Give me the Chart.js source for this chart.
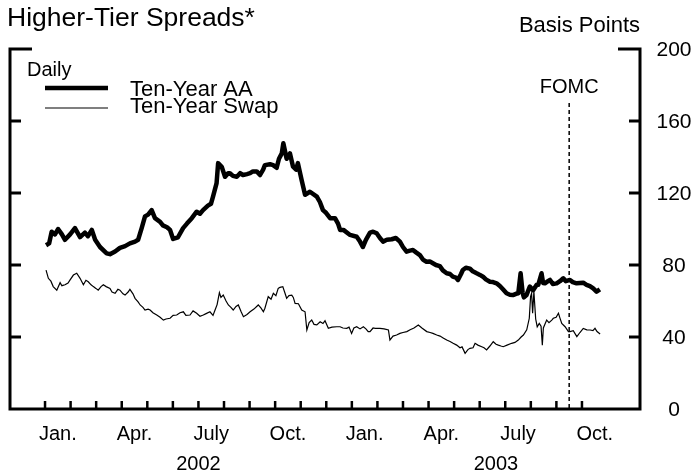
<!DOCTYPE html>
<html>
<head>
<meta charset="utf-8">
<script src="https://cdn.jsdelivr.net/npm/chart.js@4"></script>
<style>
  html, body { margin: 0; padding: 0; background: #fff; }
  #wrap { position: relative; width: 695px; height: 473px; }
</style>
</head>
<body>
<div id="wrap"><canvas id="spreads"></canvas></div>
<script>
// ═══════════════════════════════════════════════════════
// Data (x = months since Jan. 1, 2002)
// ═══════════════════════════════════════════════════════

const aaMonths = [
  0.04, 0.16, 0.26, 0.39, 0.51, 0.66, 0.78, 0.98, 1.17, 1.37, 1.56, 1.68, 1.83, 1.96, 2.15, 2.41, 2.54, 2.74, 2.93, 3.13,
  3.32, 3.52, 3.64, 3.78, 3.91, 4.03, 4.17, 4.30, 4.50, 4.61, 4.77, 4.89, 5.01, 5.20, 5.40, 5.55, 5.74, 5.93, 6.06, 6.18,
  6.37, 6.49, 6.57, 6.71, 6.77, 6.91, 7.04, 7.16, 7.23, 7.35, 7.50, 7.63, 7.74, 7.90, 8.02, 8.13, 8.28, 8.41, 8.53, 8.60,
  8.80, 8.92, 9.06, 9.15, 9.26, 9.32, 9.45, 9.58, 9.70, 9.82, 9.89, 10.04, 10.17, 10.36, 10.63, 10.75, 10.87, 10.99, 11.15, 11.34,
  11.46, 11.54, 11.67, 11.93, 12.19, 12.32, 12.43, 12.55, 12.71, 12.83, 12.97, 13.10, 13.22, 13.37, 13.56, 13.72, 13.88, 14.00, 14.14, 14.27,
  14.39, 14.51, 14.66, 14.78, 14.92, 15.05, 15.17, 15.29, 15.44, 15.56, 15.71, 15.84, 15.95, 16.07, 16.15, 16.27, 16.34, 16.46, 16.62, 16.73,
  16.88, 17.01, 17.13, 17.24, 17.40, 17.52, 17.66, 17.79, 17.91, 18.05, 18.18, 18.30, 18.42, 18.51, 18.60, 18.68, 18.73, 18.83, 18.96, 19.09,
  19.23, 19.29, 19.42, 19.48, 19.55, 19.67, 19.75, 19.86, 20.01, 20.14, 20.27, 20.37, 20.53, 20.64, 20.79, 20.92, 21.05, 21.18, 21.31, 21.44,
  21.57, 21.70
];
const aaValues = [
  91, 92, 98.5, 97, 100, 97, 94, 97, 100.5, 95.5, 98, 96, 99.5, 94, 90, 86.5, 86, 87.5, 89.5, 90.5,
  92, 93, 94, 100.5, 107, 108, 110.5, 106, 104, 102, 101, 99.5, 94.5, 95.4, 100.5, 103, 106, 109.6, 108.5, 110.5,
  113, 114, 118, 125.5, 136.6, 134.6, 129, 131, 131, 129.5, 129, 131, 130, 130.5, 131, 132, 132, 130, 133, 135.5,
  136, 135.5, 134, 139, 142, 147.6, 139, 142, 134.6, 133, 136.6, 127, 119, 120.7, 118, 115, 110.5, 109, 106, 106,
  103, 99.5, 99.5, 96.7, 95.7, 93, 90, 94, 98, 98.5, 97.6, 95, 93, 94, 94.3, 95, 93, 90, 87.4, 88,
  88.3, 87, 85.5, 83, 81.8, 82, 81, 80, 79.4, 77, 75.4, 75, 73.5, 73, 71.7, 75, 77.2, 78.5, 78, 76.5,
  75.4, 74.5, 73.5, 72, 70.7, 70.5, 69.8, 68.3, 66.5, 64.3, 63.5, 63.3, 64, 64.3, 75.4, 64.4, 62, 63.3, 68, 66,
  69, 69, 75.4, 70, 69.8, 71, 71.7, 69.5, 69.8, 71, 72.6, 71, 71.7, 70.5, 69.8, 70, 70.2, 69, 68.3, 67,
  65.2, 66.5
];

const swapMonths = [
  0.04, 0.13, 0.23, 0.32, 0.46, 0.59, 0.66, 0.78, 0.90, 0.98, 1.11, 1.24, 1.37, 1.50, 1.60, 1.69, 1.80, 1.89, 1.99, 2.08,
  2.19, 2.28, 2.39, 2.54, 2.62, 2.74, 2.85, 2.93, 3.05, 3.13, 3.25, 3.32, 3.44, 3.52, 3.64, 3.72, 3.83, 3.91, 4.03, 4.11,
  4.22, 4.37, 4.50, 4.63, 4.73, 4.89, 5.01, 5.15, 5.28, 5.41, 5.51, 5.67, 5.79, 5.93, 6.06, 6.19, 6.30, 6.45, 6.57, 6.65,
  6.73, 6.82, 6.88, 6.97, 7.08, 7.17, 7.27, 7.36, 7.47, 7.56, 7.67, 7.76, 7.90, 8.02, 8.17, 8.34, 8.45, 8.54, 8.60, 8.73,
  8.84, 8.93, 9.03, 9.12, 9.19, 9.30, 9.37, 9.45, 9.54, 9.65, 9.71, 9.78, 9.91, 10.04, 10.17, 10.24, 10.33, 10.43, 10.52, 10.63,
  10.76, 10.87, 10.95, 11.08, 11.22, 11.41, 11.54, 11.65, 11.80, 11.89, 11.99, 12.08, 12.19, 12.32, 12.45, 12.55, 12.64, 12.71, 12.83, 12.91,
  13.10, 13.26, 13.43, 13.49, 13.61, 13.75, 13.88, 14.00, 14.15, 14.28, 14.43, 14.60, 14.74, 14.93, 15.06, 15.17, 15.32, 15.45, 15.57, 15.71,
  15.84, 15.96, 16.10, 16.23, 16.31, 16.43, 16.54, 16.62, 16.74, 16.82, 16.93, 17.08, 17.17, 17.27, 17.40, 17.53, 17.64, 17.73, 17.83, 17.92,
  18.07, 18.25, 18.38, 18.51, 18.62, 18.71, 18.84, 18.94, 18.99, 19.03, 19.07, 19.12, 19.19, 19.25, 19.33, 19.40, 19.45, 19.49, 19.62, 19.71,
  19.82, 19.88, 19.99, 20.08, 20.14, 20.21, 20.34, 20.47, 20.53, 20.66, 20.80, 20.92, 21.05, 21.19, 21.32, 21.43, 21.51, 21.59, 21.71
];
const swapValues = [
  77.2, 72.6, 71, 68, 66, 70.2, 68.5, 69, 70, 71.7, 74.4, 75.4, 72.6, 69, 71.5, 70.7, 69, 68, 67, 66,
  68, 69, 68, 67, 65, 64.3, 66.5, 66, 64, 63.3, 65, 66.5, 64, 61.5, 59.5, 57.8, 56.5, 55, 55.5, 55,
  53.5, 52.2, 51, 49.4, 50, 50.4, 52, 52.2, 53.5, 54, 52, 52.2, 54.5, 53.2, 51.5, 52.2, 53, 54, 52, 55,
  58, 64.6, 62, 63.3, 60, 57.8, 56.5, 55, 57, 57.8, 54, 51.3, 52.5, 54, 55.5, 57.8, 56, 54, 56, 62.4,
  61, 64.3, 63, 67, 67.6, 68, 65, 61.5, 63, 63.3, 62, 58.7, 58.5, 55, 54, 43.9, 48, 49.4, 47, 46.7,
  48.5, 47.5, 49, 44.8, 45.5, 45.7, 45.7, 45, 44.8, 45.5, 42, 45, 45.7, 44.5, 45.7, 44.5, 43, 43, 45, 44.8,
  44.8, 44.5, 43.9, 38.3, 40.5, 41.1, 42, 42.5, 43, 44, 45, 46.7, 45, 43, 42.5, 42, 41.1, 40.5, 39.5, 38.3,
  37.5, 36.5, 35.5, 34, 34.5, 30.9, 33, 33.7, 34, 36.5, 35.5, 34.6, 34, 32.8, 35, 37.4, 36, 35.5, 35, 34.6,
  35.5, 36.5, 37, 38.3, 40, 41.1, 44, 50.4, 62.4, 64.3, 53.2, 65.2, 50, 45.7, 47.6, 46, 35.5, 45, 49.4, 48,
  49.4, 50.4, 51, 53.2, 50.5, 47.6, 45.7, 43, 43, 43.5, 40.2, 42.5, 44.8, 44, 43.9, 43.5, 44.8, 43, 41.7
];

const quarterMonths = [0, 3, 6, 9, 12, 15, 18, 21];
const quarterLabels = ['Jan.', 'Apr.', 'July', 'Oct.', 'Jan.', 'Apr.', 'July', 'Oct.'];
const yearLabels = ['2002', '2003'];
const yTicks = [0, 40, 80, 120, 160, 200];
const fomcMonth = 20.5;   // Sept. 16, 2003
const xMin = -1.37, xMax = 23.27;

const FONT = '"Liberation Sans", Arial, Helvetica, sans-serif';

// ═══════════════════════════════════════════════════════
// Frame, ticks and annotations
// ═══════════════════════════════════════════════════════

function seg(ctx, x1, y1, x2, y2) {
  ctx.beginPath();
  ctx.moveTo(x1, y1);
  ctx.lineTo(x2, y2);
  ctx.stroke();
}

function label(ctx, str, x, y, size, align) {
  ctx.font = `${size}px ${FONT}`;
  ctx.textAlign = align || 'left';
  ctx.fillText(str, x, y);
}

const framePlugin = {
  id: 'frame',
  afterDraw(chart) {
    const { ctx, chartArea: a, scales: { x, y } } = chart;
    ctx.save();
    ctx.strokeStyle = '#000';
    ctx.fillStyle = '#000';
    ctx.textBaseline = 'alphabetic';

    // FOMC marker
    const fx = x.getPixelForValue(fomcMonth);
    ctx.lineWidth = 1.5;
    ctx.setLineDash([4, 3]);
    seg(ctx, fx, 103, fx, a.bottom);
    ctx.setLineDash([]);
    label(ctx, 'FOMC', fx, 93, 20, 'center');

    // open box
    ctx.lineWidth = 3;
    ctx.lineJoin = 'miter';
    ctx.beginPath();
    ctx.moveTo(a.left + 22, a.top);
    ctx.lineTo(a.left, a.top);
    ctx.lineTo(a.left, a.bottom);
    ctx.lineTo(a.right, a.bottom);
    ctx.lineTo(a.right, a.top);
    ctx.lineTo(a.right - 22, a.top);
    ctx.stroke();

    // y ticks on both sides, labels on the right
    yTicks.forEach(v => {
      const py = y.getPixelForValue(v);
      if (v > 0 && v < 200) {
        seg(ctx, a.left, py, a.left + 11, py);
        seg(ctx, a.right, py, a.right - 11, py);
      }
      ctx.textBaseline = 'middle';
      label(ctx, String(v), a.right + 34, py + 1, 21, 'center');
      ctx.textBaseline = 'alphabetic';
    });

    // monthly ticks
    ctx.lineWidth = 2.5;
    for (let m = 0; m <= 21; m++) {
      const px = x.getPixelForValue(m);
      seg(ctx, px, a.bottom, px, a.bottom - 8);
    }
    quarterMonths.forEach((m, i) => {
      label(ctx, quarterLabels[i], x.getPixelForValue(m + 0.5), a.bottom + 31, 20, 'center');
    });
    label(ctx, yearLabels[0], x.getPixelForValue(6), a.bottom + 61, 20, 'center');
    label(ctx, yearLabels[1], x.getPixelForValue((12 + xMax) / 2), a.bottom + 61, 20, 'center');

    // titles
    label(ctx, 'Higher-Tier Spreads*', 7, 26, 26.5);
    label(ctx, 'Basis Points', a.right, 32, 22, 'right');

    // legend
    label(ctx, 'Daily', 27, 76, 20);
    ctx.lineWidth = 4.5;
    seg(ctx, 45, 88, 108, 88);
    ctx.lineWidth = 1.2;
    seg(ctx, 45, 108, 108, 108);
    label(ctx, 'Ten-Year AA', 130, 96, 22);
    label(ctx, 'Ten-Year Swap', 130, 113, 22);

    ctx.restore();
  }
};

// ═══════════════════════════════════════════════════════
// Chart
// ═══════════════════════════════════════════════════════

const toPoints = (xs, ys) => xs.map((m, i) => ({ x: m, y: ys[i] }));

new Chart(document.getElementById('spreads').getContext('2d'), {
  type: 'line',
  data: {
    datasets: [
      {
        label: 'Ten-Year AA',
        data: toPoints(aaMonths, aaValues),
        borderColor: '#000',
        borderWidth: 4.5,
        borderJoinStyle: 'round',
        pointRadius: 0,
        tension: 0,
      },
      {
        label: 'Ten-Year Swap',
        data: toPoints(swapMonths, swapValues),
        borderColor: '#000',
        borderWidth: 1.2,
        pointRadius: 0,
        tension: 0,
      }
    ]
  },
  options: {
    responsive: true,
    maintainAspectRatio: false,
    animation: false,
    layout: { padding: { left: 10, right: 55, top: 49, bottom: 64 } },
    plugins: { legend: { display: false }, tooltip: { enabled: false } },
    scales: {
      x: { type: 'linear', min: xMin, max: xMax, display: false },
      y: { min: 0, max: 200, display: false }
    }
  },
  plugins: [framePlugin]
});
</script>
</body>
</html>
